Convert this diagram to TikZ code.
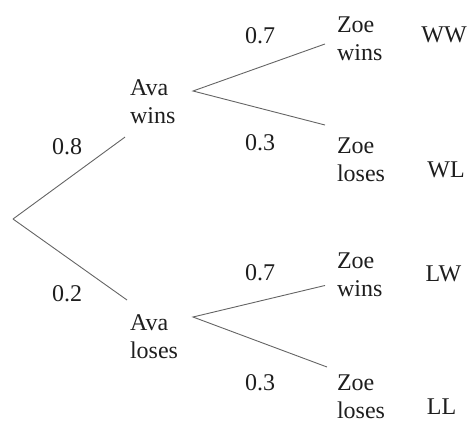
\documentclass[tikz,border=0pt]{standalone}
\usepackage{fontspec}
\IfFontExistsTF{LiberationSerif-Regular.ttf}
  {\newfontfamily\treefont{LiberationSerif-Regular.ttf}}
  {\newfontfamily\treefont{Liberation Serif}}
\definecolor{inkgray}{RGB}{30,30,30}
\definecolor{branchgray}{RGB}{100,100,100}
\begin{document}
\begin{tikzpicture}[x=1pt,y=-1pt,
  every node/.style={inner sep=0pt, outer sep=0pt, text=inkgray,
    font=\treefont\fontsize{24}{28}\selectfont},
  event/.style={align=left, anchor=north west},
  prob/.style={anchor=center},
  outcome/.style={anchor=center},
  branch/.style={draw=branchgray, line width=0.9pt}]
  \useasboundingbox (0,0) rectangle (473,421);

  % tree root
  \coordinate (root) at (13,219);

  % first stage: Ava
  \node[event] (aw) at (130,80)  {Ava\\wins};
  \node[event] (al) at (130,315) {Ava\\loses};

  % second stage: Zoe
  \node[event] (zw1) at (337,17)  {Zoe\\wins};
  \node[event] (zl1) at (337,138) {Zoe\\loses};
  \node[event] (zw2) at (337,253) {Zoe\\wins};
  \node[event] (zl2) at (337,375) {Zoe\\loses};

  % probabilities
  \node[prob] (p08)  at (67,146.5) {0.8};
  \node[prob] (p02)  at (67,294)   {0.2};
  \node[prob] (p07a) at (260,35.5) {0.7};
  \node[prob] (p03a) at (260,143)  {0.3};
  \node[prob] (p07b) at (260,272.5) {0.7};
  \node[prob] (p03b) at (260,382.5) {0.3};

  % outcomes
  \node[outcome] (ww) at (444,35)    {WW};
  \node[outcome] (wl) at (446,170)   {WL};
  \node[outcome] (lw) at (443.5,273.5) {LW};
  \node[outcome] (ll) at (441.5,406.5) {LL};

  % first-stage branches
  \draw[branch] (root) -- ([shift={(-5,13)}]aw.south west);
  \draw[branch] (root) -- ([shift={(-3,-15)}]al.north west);

  % second-stage branches, fanning out from beside each Ava node
  \draw[branch] ([shift={(-12,5)}]zw1.west)
             -- ([shift={(63,11)}]aw.north west)
             -- ([shift={(-12,-13)}]zl1.north west);
  \draw[branch] ([shift={(-12,10.5)}]zw2.west)
             -- ([shift={(63,2)}]al.north west)
             -- ([shift={(-10,-8)}]zl2.north west);
\end{tikzpicture}
\end{document}
